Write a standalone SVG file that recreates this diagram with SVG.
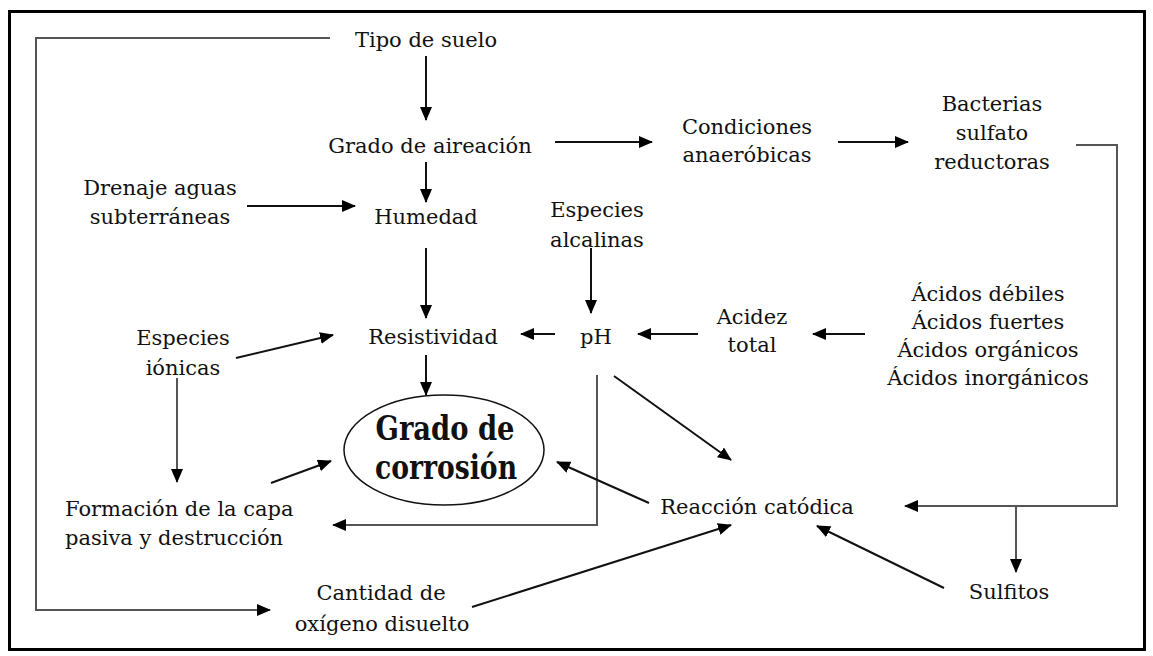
<svg xmlns="http://www.w3.org/2000/svg" width="1153" height="656" viewBox="0 0 1153 656">
<style>
text{font-family:"DejaVu Serif","Liberation Serif",serif;font-size:21px;fill:#111;text-anchor:middle}
.big{font-size:33px;font-weight:bold;font-stretch:condensed}
.c{stroke:#111;stroke-width:2;fill:none}
.g{stroke:#555;stroke-width:2;fill:none}
</style>
<defs>
<marker id="ahl" viewBox="0 0 14 12" refX="13" refY="6" markerWidth="14" markerHeight="12" markerUnits="userSpaceOnUse" orient="auto">
<path d="M0,0 L14,6 L0,12 z" fill="#000"/>
</marker>
</defs>
<rect x="0" y="0" width="1153" height="656" fill="#fff"/>
<rect x="9.5" y="11.5" width="1135" height="638" fill="none" stroke="#000" stroke-width="3"/>

<g id="connectors">
<path class="g" d="M330,38 H36 V610 H270" marker-end="url(#ahl)"/>
<path class="c" d="M426,56 V120" marker-end="url(#ahl)"/>
<path class="c" d="M426,162 V202" marker-end="url(#ahl)"/>
<path class="c" d="M426,248 V318" marker-end="url(#ahl)"/>
<path class="c" d="M426,355 V395" marker-end="url(#ahl)"/>
<path class="c" d="M247,206 H355" marker-end="url(#ahl)"/>
<path class="c" d="M555,142 H652" marker-end="url(#ahl)"/>
<path class="c" d="M838,142 H908" marker-end="url(#ahl)"/>
<path class="g" d="M1076,145 H1117 V506 H905" marker-end="url(#ahl)"/>
<path class="g" d="M1016,506 V572" marker-end="url(#ahl)"/>
<path class="c" d="M591,248 V313" marker-end="url(#ahl)"/>
<path class="c" d="M555,334 H521" marker-end="url(#ahl)"/>
<path class="c" d="M698,334 H638" marker-end="url(#ahl)"/>
<path class="c" d="M865,334 H813" marker-end="url(#ahl)"/>
<path class="c" d="M236,358 L333,335" marker-end="url(#ahl)"/>
<path class="g" d="M177,378 V482" marker-end="url(#ahl)"/>
<path class="c" d="M271,483 L331,461" marker-end="url(#ahl)"/>
<path class="g" d="M597,375 V525 H333" marker-end="url(#ahl)"/>
<path class="c" d="M614,376 L731,460" marker-end="url(#ahl)"/>
<path class="c" d="M649,503 L557,462" marker-end="url(#ahl)"/>
<path class="c" d="M472,607 L731,525" marker-end="url(#ahl)"/>
<path class="c" d="M944,588 L817,526" marker-end="url(#ahl)"/>
</g>

<g id="n-tipo"><text x="426" y="47">Tipo de suelo</text></g>
<g id="n-aireacion"><text x="430" y="153">Grado de aireación</text></g>
<g id="n-humedad"><text x="426" y="224">Humedad</text></g>
<g id="n-drenaje"><text x="160" y="195">Drenaje aguas</text><text x="160" y="224">subterráneas</text></g>
<g id="n-condiciones"><text x="747" y="134">Condiciones</text><text x="747" y="162">anaeróbicas</text></g>
<g id="n-bacterias"><text x="992" y="111">Bacterias</text><text x="992" y="140">sulfato</text><text x="992" y="169">reductoras</text></g>
<g id="n-alcalinas"><text x="597" y="217">Especies</text><text x="597" y="247">alcalinas</text></g>
<g id="n-resistividad"><text x="433" y="344">Resistividad</text></g>
<g id="n-ph"><text x="596" y="344">pH</text></g>
<g id="n-acidez"><text x="752" y="324">Acidez</text><text x="752" y="352">total</text></g>
<g id="n-acidos"><text x="988" y="301">Ácidos débiles</text><text x="988" y="329">Ácidos fuertes</text><text x="988" y="357">Ácidos orgánicos</text><text x="988" y="385">Ácidos inorgánicos</text></g>
<g id="n-ionicas"><text x="183" y="345">Especies</text><text x="183" y="375">iónicas</text></g>
<g id="n-corrosion"><ellipse cx="444" cy="450" rx="100" ry="55" fill="#fff" stroke="#111" stroke-width="1.5"/><text class="big" x="445" y="440" textLength="139" lengthAdjust="spacingAndGlyphs">Grado de</text><text class="big" x="446" y="479" textLength="142" lengthAdjust="spacingAndGlyphs">corrosión</text></g>
<g id="n-formacion"><text x="65" y="516" style="text-anchor:start">Formación de la capa</text><text x="65" y="545" style="text-anchor:start">pasiva y destrucción</text></g>
<g id="n-reaccion"><text x="757" y="514">Reacción catódica</text></g>
<g id="n-cantidad"><text x="381" y="600">Cantidad de</text><text x="382" y="631">oxígeno disuelto</text></g>
<g id="n-sulfitos"><text x="1009" y="599">Sulfitos</text></g>
</svg>
